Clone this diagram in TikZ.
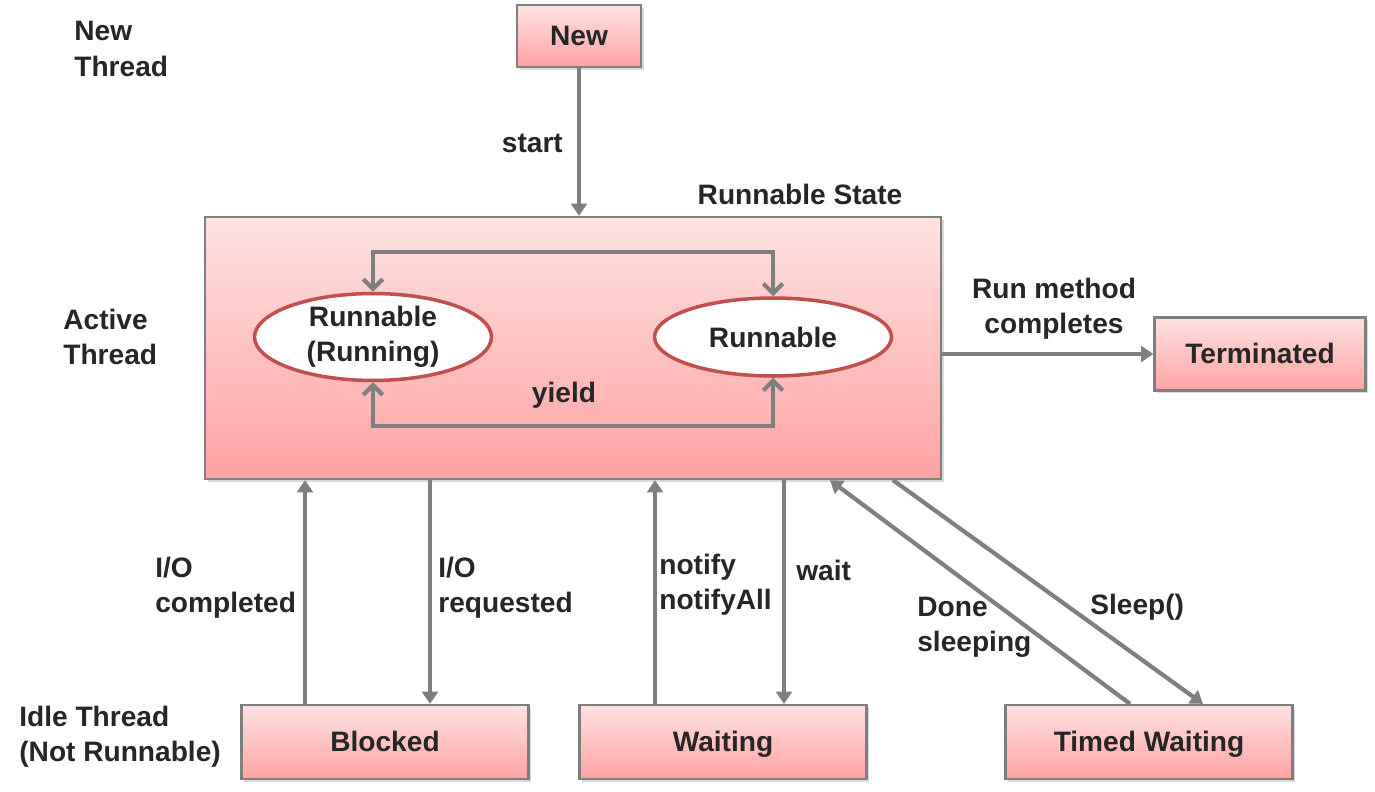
\documentclass[tikz,border=0pt]{standalone}
\usepackage{fontspec}
\setmainfont{Liberation Sans}
\usepackage{tikz}
\usetikzlibrary{arrows.meta,shapes.geometric,shadows}
\definecolor{txtgray}{HTML}{262626}
\definecolor{arrgray}{HTML}{7F7F7F}
\definecolor{pinktop}{HTML}{FFE2E2}
\definecolor{pinkbot}{HTML}{FFA2A2}
\definecolor{ovalred}{HTML}{C0504D}
\newcommand{\lblfont}{\bfseries\fontsize{16}{20}\selectfont}
\tikzset{
  state/.style={draw=arrgray, line width=1.3pt, top color=pinktop, bottom color=pinkbot,
    drop shadow={shadow xshift=1.5pt, shadow yshift=-1.5pt, opacity=0.3},
    font=\lblfont, text=txtgray, inner sep=0pt, text height=12pt, text depth=1pt},
  oval/.style={ellipse, draw=ovalred, line width=2pt, fill=white,
    minimum width=4.74cm, minimum height=1.56cm, align=center,
    font=\lblfont, text=txtgray, inner sep=0pt},
  lbl/.style={font=\lblfont, text=txtgray, align=left, anchor=west, inner sep=0pt},
  arr/.style={draw=arrgray, line width=2.4pt, -{Triangle[length=7pt,width=9pt]}},
  looparr/.style={draw=arrgray, line width=2.4pt,
    {Straight Barb[length=5.5pt,width=11pt]}-{Straight Barb[length=5.5pt,width=11pt]}}
}

\begin{document}
\begin{tikzpicture}[x=0.02cm, y=-0.02cm]
  \useasboundingbox (0,0) rectangle (1375,791);
  % states
  \node[state, minimum width=2.48cm, minimum height=1.24cm] (new) at (579,36) {New};
  \node[state, minimum width=14.72cm, minimum height=5.24cm] (runstate) at (573,348) {};
  \node[oval] (run1) at (373,337) {Runnable\\(Running)};
  \node[oval] (run2) at (773,337) {Runnable};
  \node[state, minimum width=4.22cm, minimum height=1.46cm] (term) at (1260,354) {Terminated};
  \node[state, minimum width=5.74cm, minimum height=1.48cm] (blocked) at (385,742) {Blocked};
  \node[state, minimum width=5.74cm, minimum height=1.48cm] (waiting) at (723,742) {Waiting};
  \node[state, minimum width=5.74cm, minimum height=1.48cm] (timed) at (1149,742) {Timed Waiting};
  %
  \node[lbl] (newlbl) at (74,49) {New\\Thread};
  \node[lbl] (activelbl) at (63,337) {Active\\Thread};
  \node[lbl] (idlelbl) at (19,737) {Idle Thread\\(Not Runnable)};
  \node[lbl, anchor=center] (statelbl) at (800,194) {Runnable State};
  %
  \draw[arr] (new.south) -- (new.south |- runstate.north)
    node[lbl, midway, anchor=east, xshift=-8pt, yshift=-1pt] {start};
  \draw[looparr] (run1.north) |- ([yshift=0.88cm]run2.north) -- (run2.north);
  \draw[looparr] (run1.south) |- ([yshift=-0.96cm]run2.south) -- (run2.south);
  \node[lbl, anchor=center] (yieldlbl) at (564,395) {yield};
  \draw[arr] (runstate.east |- term.west) -- (term.west);
  \node[lbl, anchor=center, align=center] (runlbl) at (1054,309) {Run method\\completes};
  %
  \draw[arr] ([xshift=-1.6cm]blocked.north) -- ([xshift=-1.6cm]blocked.north |- runstate.south);
  \draw[arr] ([xshift=0.9cm]blocked.north |- runstate.south) -- ([xshift=0.9cm]blocked.north);
  \draw[arr] ([xshift=-1.36cm]waiting.north) -- ([xshift=-1.36cm]waiting.north |- runstate.south);
  \draw[arr] ([xshift=1.22cm]waiting.north |- runstate.south) -- ([xshift=1.22cm]waiting.north);
  \draw[arr] ([xshift=-0.38cm]timed.north) -- ([xshift=5.14cm]runstate.south);
  \draw[arr] ([xshift=6.4cm]runstate.south) -- ([xshift=1.08cm]timed.north);
  %
  \node[lbl] (iocomp) at (155,588) {I/O\\completed};
  \node[lbl] (ioreq) at (438,588) {I/O\\requested};
  \node[lbl] (notifylbl) at (659,585) {notify\\notifyAll};
  \node[lbl] (waitlbl) at (796,570) {wait};
  \node[lbl] (donelbl) at (917,627) {Done\\sleeping};
  \node[lbl] (sleeplbl) at (1090,607) {Sleep()};
\end{tikzpicture}
\end{document}
